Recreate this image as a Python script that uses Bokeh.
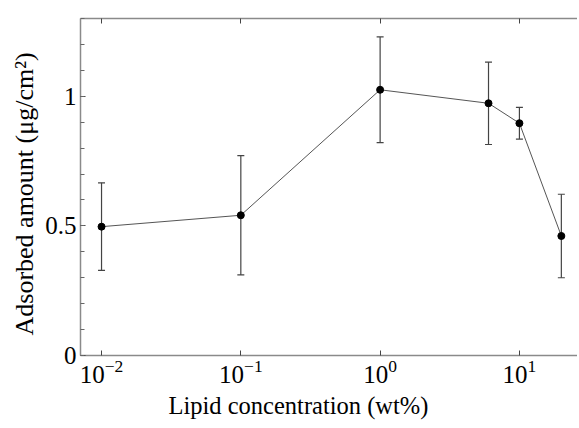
from bokeh.plotting import figure
from bokeh.models import Range1d, LogAxis, Whisker, TeeHead, ColumnDataSource, FixedTicker, LogTicker, Title
from bokeh.embed import file_html
from bokeh.resources import INLINE

# data
concentration = [0.01, 0.1, 1.0, 6.0, 10.0, 20.0]
adsorbed = [0.497, 0.541, 1.025, 0.973, 0.896, 0.461]
error = [0.169, 0.230, 0.204, 0.159, 0.061, 0.161]
x_title = "Lipid concentration (wt%)"
y_title = "Adsorbed amount (μg/cm²)"

lower = [a - e for a, e in zip(adsorbed, error)]
upper = [a + e for a, e in zip(adsorbed, error)]
src = ColumnDataSource(dict(x=concentration, y=adsorbed, lo=lower, hi=upper))

FONT = "Liberation Serif"
AXIS_COLOR = "#8a8a8a"

p = figure(frame_width=497, frame_height=337, x_axis_type="log",
           x_range=Range1d(10 ** -2.151, 10 ** 1.417), y_range=Range1d(0, 1.3),
           output_backend="svg", toolbar_location=None,
           min_border_left=80, min_border_top=18, min_border_bottom=4, min_border_right=0)
p.outline_line_color = None
p.grid.visible = False
p.background_fill_color = "white"
p.border_fill_color = "white"

# x axis
xa = p.xaxis[0]
xa.ticker = LogTicker(num_minor_ticks=0)

# top axis
ta = LogAxis(ticker=LogTicker(num_minor_ticks=0))
p.add_layout(ta, "above")

ya = p.yaxis[0]
ya.ticker = FixedTicker(ticks=[0, 0.5, 1.0], minor_ticks=[0.1 * i for i in range(14)])
ya.major_label_overrides = {0: "0", 0.5: "0.5", 1: "1"}

for ax in [xa, ta, ya]:
    ax.axis_line_color = AXIS_COLOR
    ax.axis_line_width = 1.5
    ax.major_tick_in = 5
    ax.major_tick_out = 0
    ax.major_tick_line_color = "#444444"
    ax.minor_tick_in = 4
    ax.minor_tick_out = 0
    ax.minor_tick_line_color = "#666666"
    ax.major_label_text_font = FONT
    ax.major_label_text_font_size = "25px"
    ax.major_label_text_color = "black"
ta.major_label_text_color = None
ta.major_label_text_font_size = "1px"
ta.major_label_standoff = 0
xa.minor_tick_line_color = None
ta.minor_tick_line_color = None
xa.major_label_standoff = 4
ya.major_label_standoff = 4

# axis titles (positioned like the reference)
p.add_layout(Title(text=x_title, align="left", offset=88, standoff=8,
                   text_font=FONT, text_font_size="24.5px", text_font_style="normal",
                   text_color="black"), "below")
p.add_layout(Title(text=y_title, align="left", offset=20, standoff=8,
                   text_font=FONT, text_font_size="26px", text_font_style="normal",
                   text_color="black"), "left")

p.add_layout(Whisker(source=src, base="x", lower="lo", upper="hi", dimension="height",
                     line_color="#444444", line_width=1.2,
                     upper_head=TeeHead(size=7, line_color="#444444", line_width=1.2),
                     lower_head=TeeHead(size=7, line_color="#444444", line_width=1.2)))
p.line("x", "y", source=src, line_color="#555555", line_width=1)
p.scatter("x", "y", source=src, size=7, color="black")

open("out.html", "w").write(file_html(p, INLINE))
